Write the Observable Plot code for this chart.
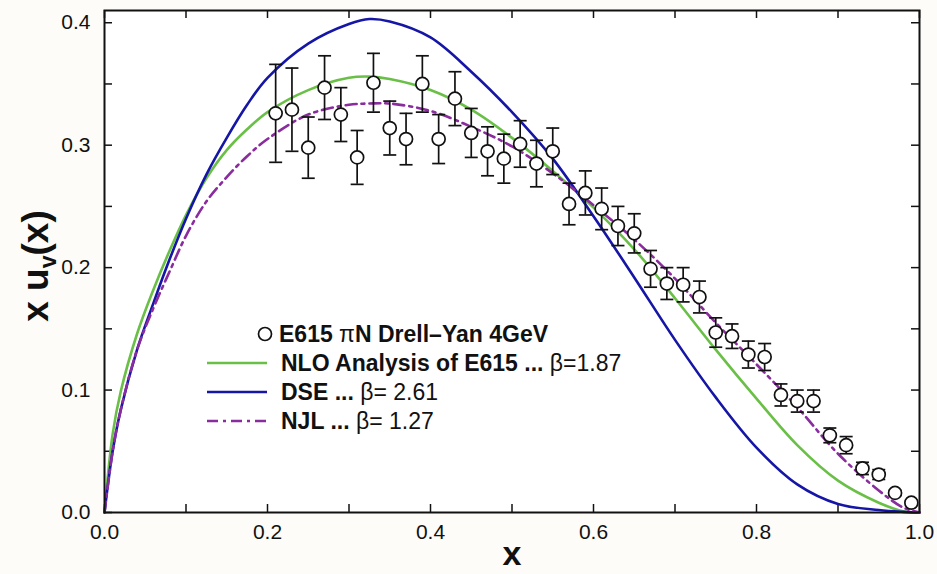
<!DOCTYPE html>
<html>
<head>
<meta charset="utf-8">
<script src="https://cdn.jsdelivr.net/npm/d3@7"></script>
<script src="https://cdn.jsdelivr.net/npm/@observablehq/plot@0.6"></script>
<style>
  html, body { margin: 0; padding: 0; background: #fdfcf8; }
  #wrap { position: relative; width: 937px; height: 574px; }
</style>
</head>
<body>
<div id="wrap"></div>
<script>
// ---- E615 data points (x, x u_v, error) ----
const dataX = [0.21, 0.23, 0.25, 0.27, 0.29, 0.31, 0.33, 0.35, 0.37, 0.39,
               0.41, 0.43, 0.45, 0.47, 0.49, 0.51, 0.53, 0.55, 0.57, 0.59,
               0.61, 0.63, 0.65, 0.67, 0.69, 0.71, 0.73, 0.75, 0.77, 0.79,
               0.81, 0.83, 0.85, 0.87, 0.89, 0.91, 0.93, 0.95, 0.97, 0.99];
const dataY = [0.326, 0.329, 0.298, 0.347, 0.325, 0.290, 0.351, 0.314, 0.305, 0.350,
               0.305, 0.338, 0.310, 0.295, 0.289, 0.301, 0.285, 0.295, 0.252, 0.261,
               0.248, 0.234, 0.228, 0.199, 0.187, 0.186, 0.176, 0.147, 0.144, 0.129,
               0.127, 0.096, 0.091, 0.091, 0.063, 0.055, 0.036, 0.031, 0.016, 0.008];
const dataErr = [0.040, 0.034, 0.025, 0.026, 0.022, 0.022, 0.024, 0.022, 0.021, 0.023,
                 0.020, 0.022, 0.020, 0.020, 0.020, 0.019, 0.019, 0.019, 0.017, 0.018,
                 0.017, 0.016, 0.016, 0.015, 0.013, 0.014, 0.013, 0.012, 0.010, 0.011,
                 0.011, 0.009, 0.009, 0.009, 0.006, 0.007, 0.005, 0.004, 0.002, 0.001];

// ---- Theory curves ----
const curveX = [0, 0.01, 0.02, 0.04, 0.06, 0.08, 0.10, 0.125, 0.15, 0.175, 0.20, 0.25, 0.30, 0.325, 0.35,
                0.40, 0.45, 0.50, 0.55, 0.60, 0.65, 0.70, 0.75, 0.80, 0.85, 0.90, 0.95, 0.98, 1.0];
const nloY = [0, 0.064, 0.099, 0.146, 0.182, 0.214, 0.243, 0.273, 0.296, 0.313, 0.327, 0.345, 0.355, 0.356, 0.354,
              0.345, 0.329, 0.306, 0.279, 0.249, 0.215, 0.175, 0.133, 0.093, 0.055, 0.026, 0.008, 0.001, 0];
const dseY = [0, 0.050, 0.084, 0.133, 0.171, 0.207, 0.240, 0.276, 0.306, 0.333, 0.355, 0.383, 0.399, 0.403, 0.401,
              0.388, 0.360, 0.327, 0.289, 0.242, 0.192, 0.141, 0.094, 0.053, 0.023, 0.007, 0.002, 0.0005, 0];
const njlY = [0, 0.050, 0.084, 0.133, 0.167, 0.197, 0.226, 0.254, 0.274, 0.291, 0.305, 0.325, 0.333, 0.334, 0.334,
              0.328, 0.315, 0.299, 0.277, 0.251, 0.223, 0.191, 0.155, 0.121, 0.086, 0.048, 0.018, 0.004, 0];

// ---- ticks ----
const xTicks = [0, 0.2, 0.4, 0.6, 0.8, 1.0];
const xMinorTicks = [0, 0.1, 0.2, 0.3, 0.4, 0.5, 0.6, 0.7, 0.8, 0.9, 1.0];
const yTicks = [0, 0.1, 0.2, 0.3, 0.4];
const yMinorTicks = [0, 0.05, 0.1, 0.15, 0.2, 0.25, 0.3, 0.35, 0.4];

// ---- legend ----
const legendLabels = [
  [["E615 ", "b"], ["π", "n"], ["N Drell–Yan 4GeV", "b"]],
  [["NLO Analysis of E615 ... ", "b"], ["β=1.87", "n"]],
  [["DSE ... ", "b"], ["β= 2.61", "n"]],
  [["NJL ... ", "b"], ["β= 1.27", "n"]]
];

const points = dataX.map((x, i) => ({x, y: dataY[i], e: dataErr[i]}));
const curves = [
  {name: "NLO", ys: nloY, color: "#6abf47", dash: null},
  {name: "DSE", ys: dseY, color: "#1616a6", dash: null},
  {name: "NJL", ys: njlY, color: "#8a2b9e", dash: "11,5,3,5"}
];
const curveRows = curves.flatMap(c => curveX.map((x, i) => ({series: c.name, x, y: c.ys[i]})));

const W = 937, H = 574, mL = 104, mR = 18, mT = 10, mB = 62;
const plotW = W - mL - mR, plotH = H - mT - mB;
const tickLen = 8;
const font = '"Liberation Sans", Arial, Helvetica, sans-serif';

const capSymbol = {draw(ctx) { ctx.moveTo(-6.5, 0); ctx.lineTo(6.5, 0); }};

const chart = Plot.plot({
  width: W, height: H,
  marginLeft: mL, marginRight: mR, marginTop: mT, marginBottom: mB,
  style: {fontFamily: font, background: "transparent", color: "#111", overflow: "visible"},
  x: {domain: [0, 1], label: null},
  y: {domain: [0, 0.41], label: null},
  marks: [
    Plot.frame({fill: "white", stroke: null}),
    Plot.tickX(xMinorTicks, {x: d => d, insetTop: plotH - tickLen, stroke: "#111", strokeWidth: 1.5}),
    Plot.tickX(xMinorTicks, {x: d => d, insetBottom: plotH - tickLen, stroke: "#111", strokeWidth: 1.5}),
    Plot.tickY(yMinorTicks, {y: d => d, insetRight: plotW - tickLen, stroke: "#111", strokeWidth: 1.5}),
    Plot.tickY(yMinorTicks, {y: d => d, insetLeft: plotW - tickLen, stroke: "#111", strokeWidth: 1.5}),
    Plot.axisX(xTicks, {tickSize: 0, tickPadding: 12, tickFormat: d3.format(".1f"), fontSize: 21, label: null}),
    Plot.axisY(yTicks, {tickSize: 0, tickPadding: 14, tickFormat: d3.format(".1f"), fontSize: 21, label: null}),
    ...curves.map(c => Plot.line(curveRows.filter(r => r.series === c.name), {
      x: "x", y: "y", stroke: c.color, strokeWidth: 2.6, curve: "catmull-rom",
      strokeDasharray: c.dash
    })),
    Plot.ruleX(points, {x: "x", y1: d => d.y - d.e, y2: d => d.y + d.e, stroke: "#111", strokeWidth: 1.7}),
    Plot.dot(points, {x: "x", y: d => d.y + d.e, symbol: capSymbol, stroke: "#111", fill: "none", strokeWidth: 1.7}),
    Plot.dot(points, {x: "x", y: d => d.y - d.e, symbol: capSymbol, stroke: "#111", fill: "none", strokeWidth: 1.7}),
    Plot.dot(points, {x: "x", y: "y", r: 6.5, fill: "white", stroke: "#111", strokeWidth: 1.7}),
    Plot.frame({stroke: "#111", strokeWidth: 2})
  ]
});

document.getElementById("wrap").appendChild(chart);

const svg = d3.select(chart);

// Axis titles
svg.append("text")
  .attr("x", 512).attr("y", 565)
  .attr("text-anchor", "middle")
  .style("font-family", font).style("font-weight", "bold").style("font-size", "34px")
  .attr("fill", "#111")
  .text("x");

const yt = svg.append("text")
  .attr("transform", "translate(48,266) rotate(-90)")
  .attr("text-anchor", "middle")
  .style("font-family", font).style("font-weight", "bold").style("font-size", "37px")
  .attr("fill", "#111");
yt.append("tspan").text("x u");
yt.append("tspan").attr("dy", 8).style("font-size", "23px").text("v");
yt.append("tspan").attr("dy", -8).text("(x)");

// Legend
const lg = svg.append("g").attr("transform", "translate(207,334)");
const rowGap = 29;
legendLabels.forEach((parts, i) => {
  const g = lg.append("g").attr("transform", `translate(0,${i * rowGap})`);
  if (i === 0) {
    g.append("circle").attr("cx", 58).attr("cy", 0).attr("r", 6.5)
      .attr("fill", "white").attr("stroke", "#111").attr("stroke-width", 1.7);
  } else {
    const c = curves[i - 1];
    g.append("line").attr("x1", 0).attr("x2", 60).attr("y1", 0).attr("y2", 0)
      .attr("stroke", c.color).attr("stroke-width", 2.6)
      .attr("stroke-dasharray", c.dash);
  }
  const t = g.append("text").attr("x", i === 0 ? 72 : 74).attr("y", 0).attr("dy", "0.36em")
    .attr("text-anchor", "start")
    .style("font-family", font).style("font-size", "23px").attr("fill", "#111");
  parts.forEach(([s, w]) => {
    t.append("tspan").style("font-weight", w === "b" ? "bold" : "normal").text(s);
  });
});
</script>
</body>
</html>
